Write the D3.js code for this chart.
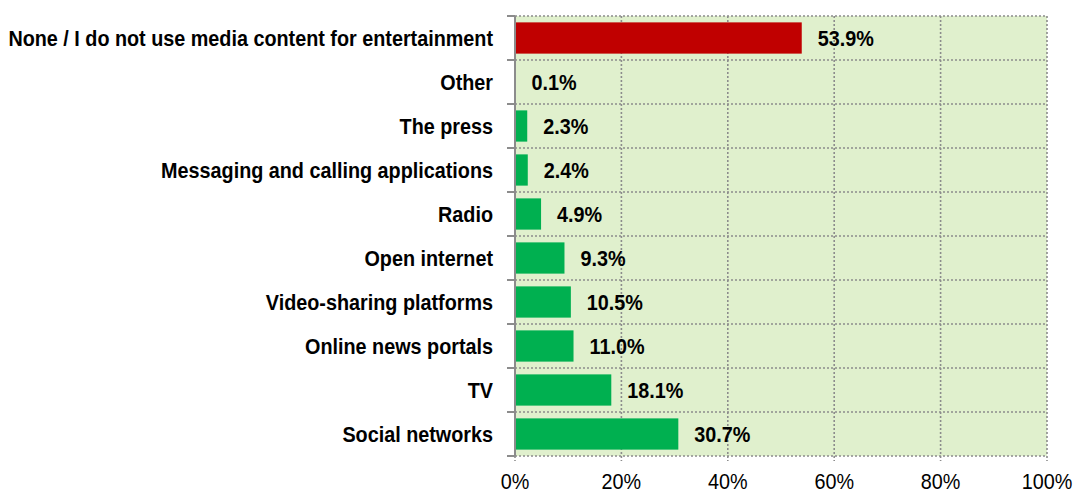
<!DOCTYPE html>
<html>
<head>
<meta charset="utf-8">
<title>Media content for entertainment</title>
<style>
  body { margin: 0; background: #fff; }
  svg text { font-family: "Liberation Sans", Arial, sans-serif; fill: #000; }
  .cat { font-size: 22px; font-weight: bold; }
  .val { font-size: 22px; font-weight: bold; }
  .tick-label { font-size: 22px; }
  .grid { stroke: #8c8c8c; stroke-width: 1.6; stroke-dasharray: 2,2; fill: none; }
</style>
</head>
<body>
<script src="https://d3js.org/d3.v7.min.js"></script>
<script>
// data, top to bottom
var categories = ["None / I do not use media content for entertainment", "Other", "The press",
  "Messaging and calling applications", "Radio", "Open internet", "Video-sharing platforms",
  "Online news portals", "TV", "Social networks"];
var values = [53.9, 0.1, 2.3, 2.4, 4.9, 9.3, 10.5, 11.0, 18.1, 30.7];
var xTicks = [0, 20, 40, 60, 80, 100];

var W = 1073, H = 493;
var margin = {top: 16, right: 26, bottom: 37, left: 515};
var width = W - margin.left - margin.right,
    height = H - margin.top - margin.bottom;
var sx = 0.9; // narrow font look

var x = d3.scaleLinear().domain([0, 100]).range([0, width]);
var y = d3.scaleBand().domain(categories).range([0, height]).paddingInner(0.29).paddingOuter(0.145);

var svg = d3.select("body").append("svg")
    .attr("width", W).attr("height", H)
  .append("g")
    .attr("transform", "translate(" + margin.left + "," + margin.top + ")");

svg.append("rect")
  .attr("width", width).attr("height", height)
  .attr("fill", "#e0f0cd");

// horizontal grid at category boundaries
var bounds = d3.range(categories.length + 1).map(function(i) { return i * height / categories.length; });
svg.selectAll(".hgrid").data(bounds).enter().append("line")
  .attr("class", "grid")
  .attr("x1", 0).attr("x2", width)
  .attr("y1", function(d) { return d; }).attr("y2", function(d) { return d; });

// vertical grid
svg.selectAll(".vgrid").data(xTicks).enter().append("line")
  .attr("class", "grid")
  .attr("x1", function(d) { return x(d); }).attr("x2", function(d) { return x(d); })
  .attr("y1", 0).attr("y2", height + 5);

// bars
svg.selectAll(".bar").data(values).enter().append("rect")
  .attr("class", "bar")
  .attr("x", 0)
  .attr("y", function(d, i) { return y(categories[i]); })
  .attr("width", function(d) { return x(d); })
  .attr("height", y.bandwidth())
  .attr("fill", function(d, i) { return i === 0 ? "#c00000" : "#00b050"; });

// value labels
svg.selectAll(".val").data(values).enter().append("text")
  .attr("class", "val")
  .attr("transform", function(d, i) {
    return "translate(" + (x(d) + 16) + "," + (y(categories[i]) + y.bandwidth() / 2) + ") scale(" + sx + ",1)";
  })
  .attr("dy", "0.36em")
  .text(function(d) { return d.toFixed(1) + "%"; });

// left axis
svg.append("line")
  .attr("x1", 0).attr("x2", 0).attr("y1", 0).attr("y2", height)
  .attr("stroke", "#8c8c8c").attr("stroke-width", 2);
svg.selectAll(".ytick").data(bounds).enter().append("line")
  .attr("x1", -8).attr("x2", 0)
  .attr("y1", function(d) { return d; }).attr("y2", function(d) { return d; })
  .attr("stroke", "#8c8c8c").attr("stroke-width", 2);

svg.selectAll(".cat").data(categories).enter().append("text")
  .attr("class", "cat")
  .attr("transform", function(d) {
    return "translate(-22," + (y(d) + y.bandwidth() / 2) + ") scale(" + sx + ",1)";
  })
  .attr("dy", "0.36em")
  .attr("text-anchor", "end")
  .text(function(d) { return d; });

// x tick labels
svg.selectAll(".tick-label").data(xTicks).enter().append("text")
  .attr("class", "tick-label")
  .attr("transform", function(d) {
    return "translate(" + x(d) + "," + (height + 25) + ") scale(" + sx + ",1)";
  })
  .attr("dy", "0.36em")
  .attr("text-anchor", "middle")
  .text(function(d) { return d + "%"; });
</script>
</body>
</html>
